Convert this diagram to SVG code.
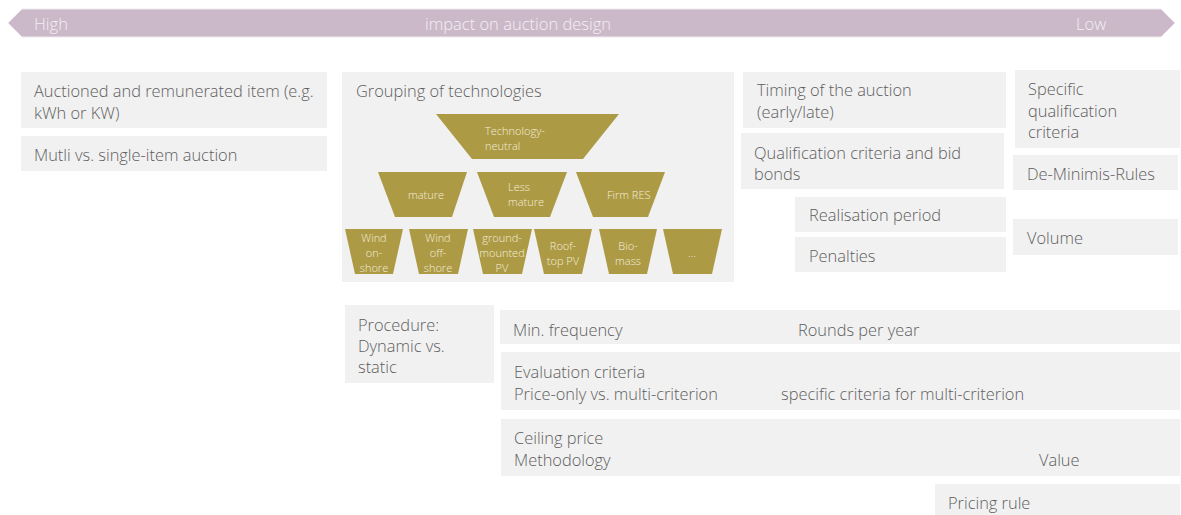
<svg xmlns="http://www.w3.org/2000/svg" width="1181" height="515" viewBox="0 0 1181 515">
<style>
.box{fill:#f1f1f1}
.t{font-family:"Open Sans","Liberation Sans",sans-serif;font-weight:300;font-size:16.4px;fill:#5e5e5e}
.g{fill:#ad9a45}
.gt{font-family:"Open Sans","Liberation Sans",sans-serif;font-weight:300;font-size:11px;fill:#f3eedc}
.gc{text-anchor:middle}
.ht{font-family:"Open Sans","Liberation Sans",sans-serif;font-weight:300;font-size:16.5px;fill:#f4eff4}
</style>
<rect width="1181" height="515" fill="#ffffff"/>
<g id="scale">
<polygon points="8,23 22,9 1161,9 1175,23 1161,37 22,37" fill="#cbb9ca" stroke="#f0eaf0" stroke-width="1"/>
<text class="ht" x="34" y="30">High</text>
<text class="ht" x="518" y="30" text-anchor="middle">impact on auction design</text>
<text class="ht" x="1076" y="30">Low</text>
</g>
<g id="auctioned-item">
<rect class="box" x="21" y="72" width="306" height="56"/>
<text class="t" x="34" y="97">Auctioned and remunerated item (e.g.</text>
<text class="t" x="34" y="119">kWh or KW)</text>
</g>
<g id="multi-single">
<rect class="box" x="21" y="136" width="306" height="35"/>
<text class="t" x="34" y="161">Mutli vs. single-item auction</text>
</g>
<g id="grouping">
<rect class="box" x="342" y="72" width="392" height="210"/>
<text class="t" x="356" y="97">Grouping of technologies</text>
</g>
<g id="tech-neutral">
<polygon class="g" points="436,114 619,114 583,159 472,159"/>
<text class="gt" x="485" y="135">Technology-</text>
<text class="gt" x="485" y="150">neutral</text>
</g>
<g id="mature">
<polygon class="g" points="378,172 467,172 452,217 395,217"/>
<text class="gt" x="408" y="199">mature</text>
</g>
<g id="less-mature">
<polygon class="g" points="477,172 567,172 550,217 494,217"/>
<text class="gt" x="508" y="191">Less</text>
<text class="gt" x="508" y="206">mature</text>
</g>
<g id="firm-res">
<polygon class="g" points="576,172 665,172 648,217 593,217"/>
<text class="gt" x="607" y="199">Firm RES</text>
</g>
<g id="wind-onshore">
<polygon class="g" points="345,229 403,229 393,274 355,274"/>
<text class="gt gc" x="374" y="242">Wind</text>
<text class="gt gc" x="374" y="257">on-</text>
<text class="gt gc" x="374" y="272">shore</text>
</g>
<g id="wind-offshore">
<polygon class="g" points="409,229 468,229 458,274 419,274"/>
<text class="gt gc" x="438" y="242">Wind</text>
<text class="gt gc" x="438" y="257">off-</text>
<text class="gt gc" x="438" y="272">shore</text>
</g>
<g id="ground-pv">
<polygon class="g" points="473,229 532,229 522,274 483,274"/>
<text class="gt gc" x="502" y="242">ground-</text>
<text class="gt gc" x="502" y="257">mounted</text>
<text class="gt gc" x="502" y="272">PV</text>
</g>
<g id="rooftop-pv">
<polygon class="g" points="534,229 592,229 582,274 544,274"/>
<text class="gt gc" x="563" y="250">Roof-</text>
<text class="gt gc" x="563" y="265">top PV</text>
</g>
<g id="biomass">
<polygon class="g" points="599,229 657,229 647,274 609,274"/>
<text class="gt gc" x="628" y="250">Bio-</text>
<text class="gt gc" x="628" y="265">mass</text>
</g>
<g id="more">
<polygon class="g" points="663,229 722,229 712,274 673,274"/>
<text class="gt gc" x="692" y="257">...</text>
</g>
<g id="timing">
<rect class="box" x="743" y="72" width="263" height="56"/>
<text class="t" x="757" y="96">Timing of the auction</text>
<text class="t" x="757" y="118">(early/late)</text>
</g>
<g id="qualification">
<rect class="box" x="741" y="133" width="263" height="56"/>
<text class="t" x="754" y="159">Qualification criteria and bid</text>
<text class="t" x="754" y="180">bonds</text>
</g>
<g id="realisation">
<rect class="box" x="795" y="197" width="211" height="35"/>
<text class="t" x="809" y="221">Realisation period</text>
</g>
<g id="penalties">
<rect class="box" x="795" y="237" width="211" height="35"/>
<text class="t" x="809" y="262">Penalties</text>
</g>
<g id="specific-qualification">
<rect class="box" x="1015" y="70" width="165" height="78"/>
<text class="t" x="1028" y="95">Specific</text>
<text class="t" x="1028" y="117">qualification</text>
<text class="t" x="1028" y="138">criteria</text>
</g>
<g id="de-minimis">
<rect class="box" x="1013" y="155" width="165" height="35"/>
<text class="t" x="1027" y="180">De-Minimis-Rules</text>
</g>
<g id="volume">
<rect class="box" x="1013" y="219" width="165" height="36"/>
<text class="t" x="1027" y="244">Volume</text>
</g>
<g id="procedure">
<rect class="box" x="345" y="305" width="149" height="78"/>
<text class="t" x="358" y="331">Procedure:</text>
<text class="t" x="358" y="352">Dynamic vs.</text>
<text class="t" x="358" y="373">static</text>
</g>
<g id="frequency">
<rect class="box" x="500" y="310" width="680" height="34"/>
<text class="t" x="513" y="336">Min. frequency</text>
<text class="t" x="798" y="336">Rounds per year</text>
</g>
<g id="evaluation">
<rect class="box" x="501" y="352" width="679" height="58"/>
<text class="t" x="514" y="378">Evaluation criteria</text>
<text class="t" x="514" y="400">Price-only vs. multi-criterion</text>
<text class="t" x="781" y="400">specific criteria for multi-criterion</text>
</g>
<g id="ceiling">
<rect class="box" x="501" y="419" width="679" height="57"/>
<text class="t" x="514" y="444">Ceiling price</text>
<text class="t" x="514" y="466">Methodology</text>
<text class="t" x="1039" y="466">Value</text>
</g>
<g id="pricing">
<rect class="box" x="935" y="484" width="245" height="31"/>
<text class="t" x="948" y="509">Pricing rule</text>
</g>
<g id="connectors"></g>
</svg>
